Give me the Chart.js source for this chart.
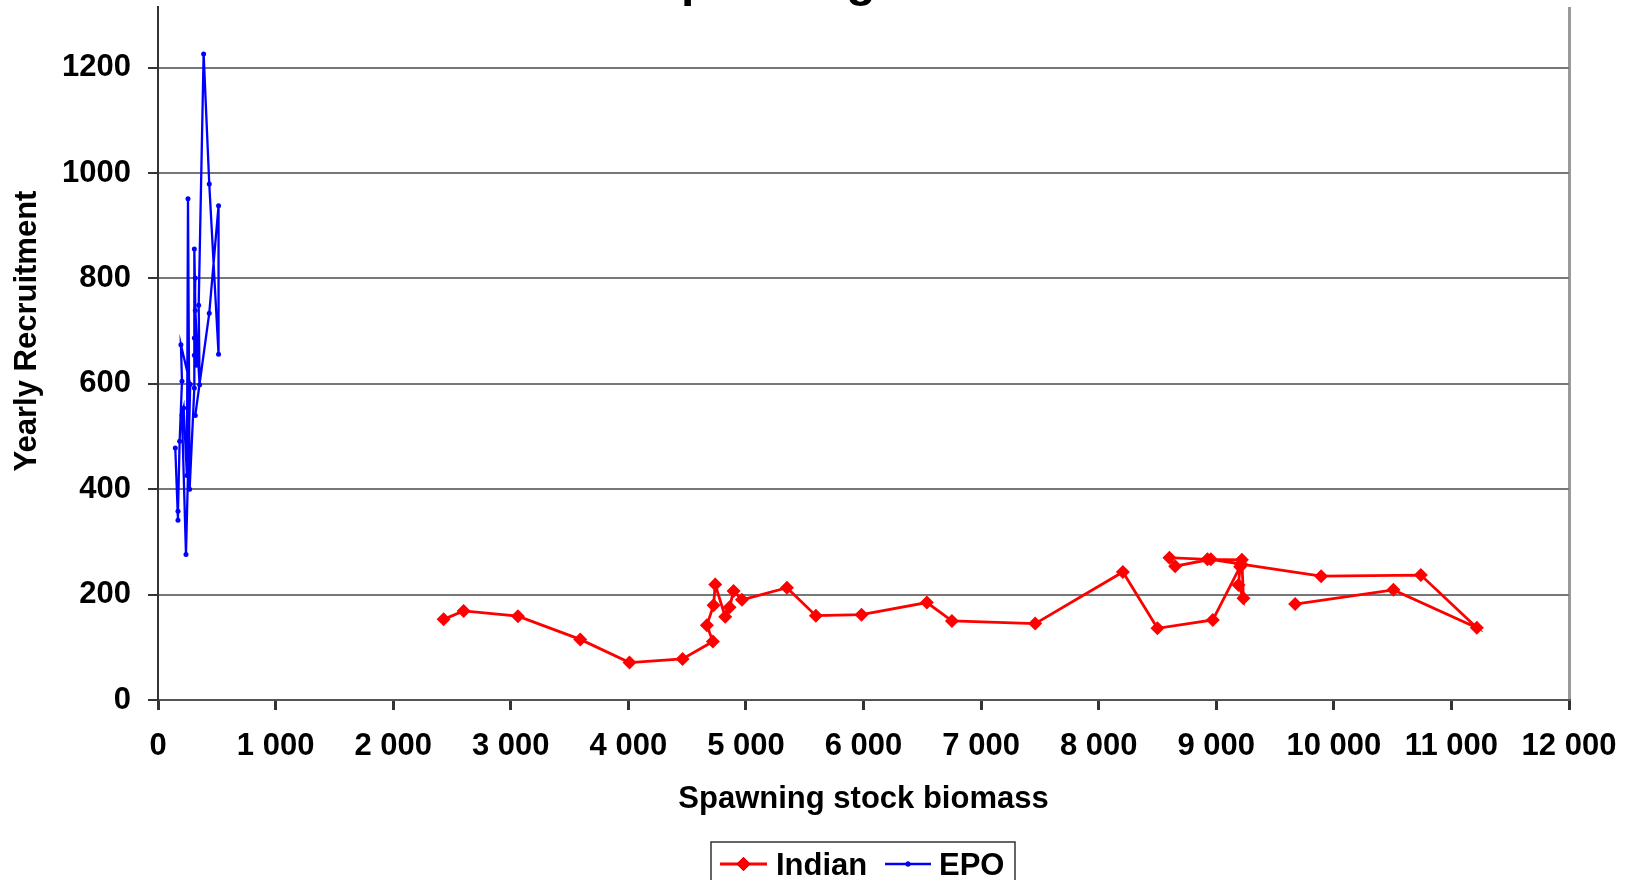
<!DOCTYPE html>
<html>
<head>
<meta charset="utf-8">
<title>Spawning stock and recruitment</title>
<script src="https://cdn.jsdelivr.net/npm/chart.js@4.4.0/dist/chart.umd.min.js"></script>
<style>
  html, body { margin: 0; padding: 0; background: #fff; overflow: hidden; }
  #wrap { width: 1633px; height: 880px; position: relative; }
</style>
</head>
<body>
<div id="wrap"><canvas id="chart" width="1633" height="880"></canvas></div>
<script>
// values
const seriesNames = ['Indian', 'EPO'];
const indianX = [2429, 2599, 3061, 3591, 4010, 4461, 4719, 4668, 4725, 4739, 4824, 4861, 4895, 4966,
  5349, 5595, 5983, 6539, 6752, 7460, 8206, 8500, 8971, 9203, 9189, 9231, 9218, 8925, 8602, 8651,
  8954, 9210, 9892, 10740, 11216, 10507, 9671];
const indianY = [153, 169, 159, 115, 71, 78, 111, 142, 180, 219, 158, 176, 207, 190,
  213, 160, 162, 185, 150, 145, 243, 136, 152, 253, 218, 193, 266, 267, 270, 254,
  267, 258, 235, 237, 137, 209, 182];
const epoX = [147, 170, 170, 184, 204, 195, 274, 238, 204, 218, 246, 255, 269, 309,
  309, 326, 309, 317, 309, 317, 354, 346, 388, 436, 515, 515, 436, 317];
const epoY = [478, 341, 358, 491, 605, 674, 599, 276, 540, 554, 426, 951, 400, 592,
  856, 635, 687, 801, 654, 739, 598, 749, 1226, 979, 656, 938, 734, 540];
const xTicks = [0, 1000, 2000, 3000, 4000, 5000, 6000, 7000, 8000, 9000, 10000, 11000, 12000];
const yTicks = [0, 200, 400, 600, 800, 1000, 1200];
const chartTitle = 'Spawning stock and recruitment';
const xTitle = 'Spawning stock biomass';
const yTitle = 'Yearly Recruitment';

const FONT = '"Liberation Sans", Arial, sans-serif';

function toPoints(xs, ys) {
  return xs.map((x, i) => ({ x: x, y: ys[i] }));
}

function spaced(v) {
  return String(v).replace(/\B(?=(\d{3})+(?!\d))/g, ' ');
}

// titles: main title is cut off by the top edge, only descenders show
const textPlugin = {
  id: 'texts',
  afterDraw(chart) {
    const ctx = chart.ctx;
    const area = chart.chartArea;
    ctx.save();
    ctx.fillStyle = '#000';

    ctx.font = 'bold 48px ' + FONT;
    ctx.textBaseline = 'alphabetic';
    ctx.textAlign = 'left';
    const sWidth = ctx.measureText('S').width;
    ctx.fillText(chartTitle, 681 - sWidth, -4);

    ctx.font = 'bold 31px ' + FONT;
    ctx.textAlign = 'center';
    ctx.fillText(xTitle, (area.left + area.right) / 2, 808);

    ctx.translate(27, 331);
    ctx.rotate(-Math.PI / 2);
    ctx.textBaseline = 'middle';
    ctx.fillText(yTitle, 0, 0);
    ctx.restore();
  }
};

// Excel-like legend box under the x axis title
const legendPlugin = {
  id: 'boxLegend',
  afterDraw(chart) {
    const ctx = chart.ctx;
    ctx.save();
    ctx.strokeStyle = '#333';
    ctx.lineWidth = 1.5;
    ctx.strokeRect(711, 842, 304, 60);

    ctx.font = 'bold 31px ' + FONT;
    ctx.textBaseline = 'alphabetic';
    ctx.textAlign = 'left';

    const items = [
      { ds: chart.data.datasets[0], x0: 720, x1: 767, tx: 776 },
      { ds: chart.data.datasets[1], x0: 885, x1: 931, tx: 939 }
    ];
    items.forEach(it => {
      const y = 864;
      ctx.strokeStyle = it.ds.borderColor;
      ctx.lineWidth = it.ds.borderWidth;
      ctx.beginPath();
      ctx.moveTo(it.x0, y);
      ctx.lineTo(it.x1, y);
      ctx.stroke();
      Chart.helpers.drawPoint(ctx, {
        pointStyle: it.ds.pointStyle,
        radius: it.ds.pointRadius,
        borderWidth: 0
      }, (it.x0 + it.x1) / 2, y);
      ctx.fillStyle = it.ds.pointBackgroundColor;
      ctx.fill();
      ctx.fillStyle = '#000';
      ctx.fillText(it.ds.label, it.tx, 875);
    });
    ctx.restore();
  }
};

new Chart(document.getElementById('chart'), {
  type: 'scatter',
  data: {
    datasets: [
      {
        label: seriesNames[0],
        data: toPoints(indianX, indianY),
        showLine: true,
        borderColor: '#ff0000',
        borderWidth: 2.8,
        pointStyle: 'rectRot',
        pointRadius: 7,
        pointBackgroundColor: '#ff0000',
        pointBorderColor: '#ff0000',
        pointBorderWidth: 0
      },
      {
        label: seriesNames[1],
        data: toPoints(epoX, epoY),
        showLine: true,
        borderColor: '#0000ff',
        borderWidth: 2.3,
        pointStyle: 'circle',
        pointRadius: 2.5,
        pointBackgroundColor: '#0000ff',
        pointBorderColor: '#0000ff',
        pointBorderWidth: 0
      }
    ]
  },
  options: {
    responsive: false,
    animation: false,
    layout: { padding: { top: 7, left: 0, right: 64, bottom: 80 } },
    plugins: {
      legend: { display: false },
      tooltip: { enabled: false }
    },
    scales: {
      x: {
        type: 'linear',
        min: 0,
        max: 12000,
        afterBuildTicks: s => { s.ticks = xTicks.map(v => ({ value: v })); },
        afterFit: s => { s.height = 100; s.paddingLeft = 0; s.paddingRight = 0; },
        ticks: {
          autoSkip: false,
          maxRotation: 0,
          padding: 18,
          color: '#000',
          font: { family: FONT, size: 31, weight: 'bold' },
          callback: v => spaced(v)
        },
        grid: {
          drawTicks: true,
          tickLength: 10,
          tickColor: '#333',
          lineWidth: 3,
          color: c => (c.tick && c.tick.value === 12000 ? '#9a9a9a' : 'rgba(0,0,0,0)')
        },
        border: { display: true, color: '#555', width: 2 }
      },
      y: {
        type: 'linear',
        min: 0,
        max: 1315,
        afterBuildTicks: s => { s.ticks = yTicks.map(v => ({ value: v })); },
        afterFit: s => { s.width = 158; s.paddingTop = 0; s.paddingBottom = 0; },
        ticks: {
          autoSkip: false,
          padding: 17,
          color: '#000',
          font: { family: FONT, size: 31, weight: 'bold' },
          callback: v => String(v)
        },
        grid: {
          drawTicks: true,
          tickLength: 10,
          tickColor: '#333',
          lineWidth: 2,
          color: c => (c.tick && c.tick.value === 0 ? 'rgba(0,0,0,0)' : '#777')
        },
        border: { display: true, color: '#333', width: 2 }
      }
    }
  },
  plugins: [textPlugin, legendPlugin]
});
</script>
</body>
</html>
